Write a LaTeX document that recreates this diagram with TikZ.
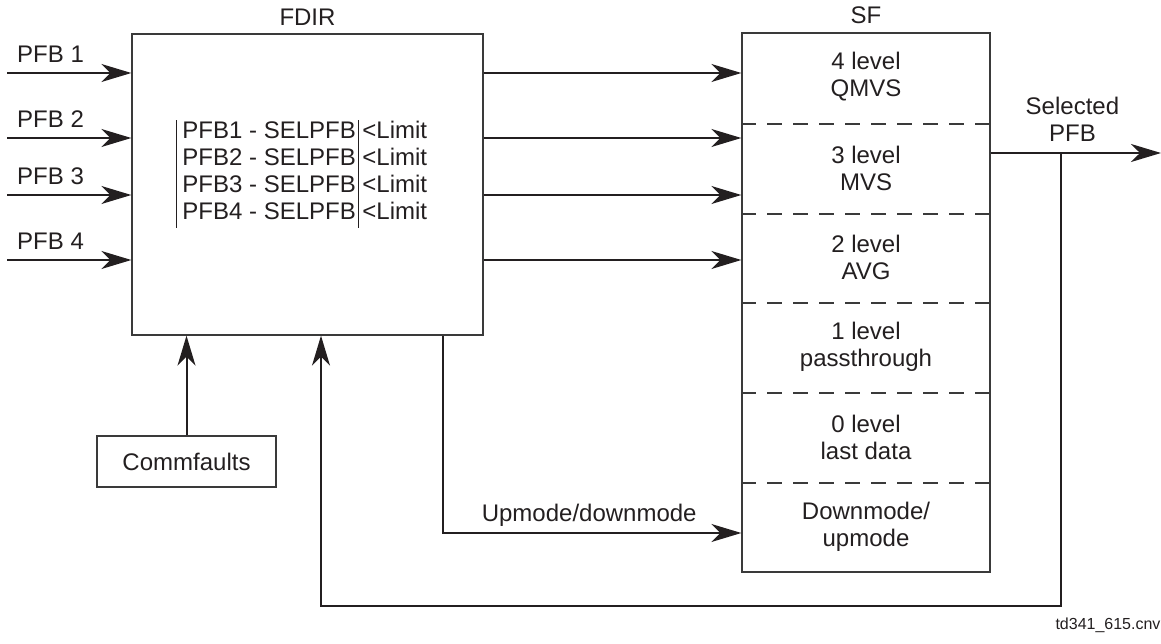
\documentclass[tikz,border=0pt]{standalone}
\usepackage{fontspec}
\setmainfont{Liberation Sans}
\usetikzlibrary{arrows.meta,positioning}
\definecolor{inkc}{HTML}{231F20}
\definecolor{boxc}{HTML}{3A3A3A}

\begin{document}
\begin{tikzpicture}[
  x=1pt, y=-1pt,
  font=\fontsize{24}{27}\selectfont,
  blk/.style={draw=boxc, line width=1.3pt, inner sep=0pt, text=inkc, align=center},
  lbl/.style={text=inkc, align=center, inner sep=2pt},
  arr/.style={-{Stealth[length=30pt, width=18pt, inset=9pt]}, line width=2pt, draw=inkc},
  sep/.style={draw=boxc, line width=1.2pt, dash pattern=on 15pt off 11pt}
]
  \useasboundingbox (0,0) rectangle (1161,644);

  % main blocks
  \node[blk, minimum width=351pt, minimum height=301pt] (fdir) at (307.5,184.5) {};
  \node[blk, minimum width=248pt, minimum height=539pt] (sf) at (866,302.5) {};
  \node[blk, minimum width=179pt, minimum height=51pt] (commf) at (186.5,461.5) {Commfaults};

  \node[lbl, above=6pt of fdir.north] (fdirlbl) {FDIR};
  \node[lbl, above=6pt of sf.north] (sflbl) {SF};

  % limit checks inside FDIR
  \node[lbl, inner sep=0pt] (checks) at (302,174) {\arrayrulewidth=1.2pt
    \begin{tabular}{@{}|@{\hspace{5pt}}l@{\hspace{3pt}}|@{\hspace{3pt}}l@{}}
      PFB1 - SELPFB & <Limit\\
      PFB2 - SELPFB & <Limit\\
      PFB3 - SELPFB & <Limit\\
      PFB4 - SELPFB & <Limit
    \end{tabular}};

  % SF levels
  \draw[sep] (sf.west |- 0,124) -- (sf.east |- 0,124);
  \draw[sep] (sf.west |- 0,214) -- (sf.east |- 0,214);
  \draw[sep] (sf.west |- 0,303) -- (sf.east |- 0,303);
  \draw[sep] (sf.west |- 0,393) -- (sf.east |- 0,393);
  \draw[sep] (sf.west |- 0,483) -- (sf.east |- 0,483);
  \node[lbl] (lvl4) at (866,77) {4 level\\ QMVS};
  \node[lbl] (lvl3) at (866,168) {3 level\\ MVS};
  \node[lbl] (lvl2) at (866,257) {2 level\\ AVG};
  \node[lbl] (lvl1) at (866,347) {1 level\\ passthrough};
  \node[lbl] (lvl0) at (866,437) {0 level\\ last data};
  \node[lbl] (lvldm) at (866,527) {Downmode/\\ upmode};

  % inputs
  \coordinate (in1) at (7,73);
  \coordinate (in2) at (7,138);
  \coordinate (in3) at (7,195);
  \coordinate (in4) at (7,260);
  \draw[arr] (in1) -- node[lbl, above=7pt, pos=0.35] {PFB 1} (in1 -| fdir.west);
  \draw[arr] (in2) -- node[lbl, above=7pt, pos=0.35] {PFB 2} (in2 -| fdir.west);
  \draw[arr] (in3) -- node[lbl, above=7pt, pos=0.35] {PFB 3} (in3 -| fdir.west);
  \draw[arr] (in4) -- node[lbl, above=7pt, pos=0.35] {PFB 4} (in4 -| fdir.west);

  % FDIR to SF
  \draw[arr] (fdir.east |- in1) -- (sf.west |- in1);
  \draw[arr] (fdir.east |- in2) -- (sf.west |- in2);
  \draw[arr] (fdir.east |- in3) -- (sf.west |- in3);
  \draw[arr] (fdir.east |- in4) -- (sf.west |- in4);

  \draw[arr] (commf.north) -- (commf.north |- fdir.south);

  \coordinate (mode) at (443,533);
  \draw[arr] (mode |- fdir.south) -- (mode) -- node[lbl, above=4pt, pos=0.49] {Upmode/downmode} (mode -| sf.west);

  % output and feedback
  \coordinate (out) at (1161,153);
  \coordinate (tap) at (1061,153);
  \coordinate (fb) at (321,606);
  \draw[arr] (sf.east |- out) -- node[lbl, above=8pt, pos=0.48] {Selected\\ PFB} (out);
  \draw[arr] (tap) |- (fb) -- (fb |- fdir.south);

  \node[lbl, font=\fontsize{16}{18}\selectfont] (tag) at (1108,625) {td341\_615.cnv};
\end{tikzpicture}
\end{document}
